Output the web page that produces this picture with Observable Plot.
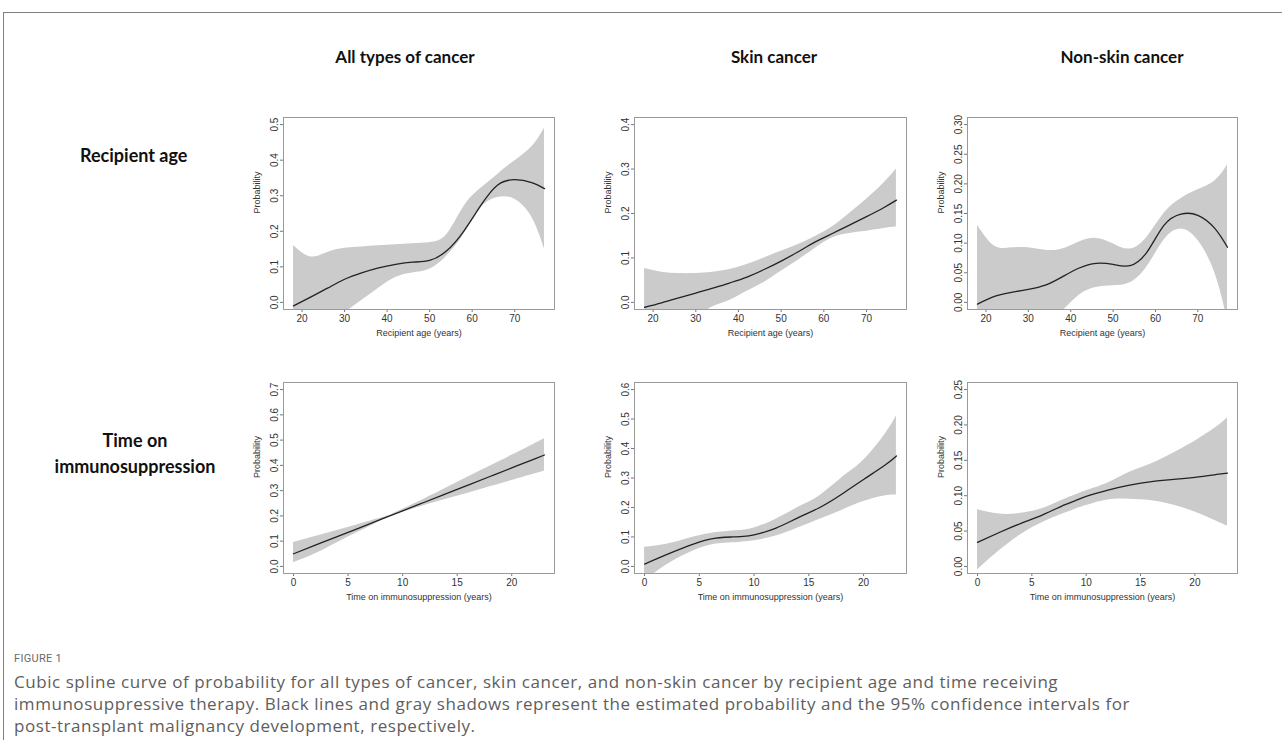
<!DOCTYPE html>
<html>
<head>
<meta charset="utf-8">
<script src="https://cdn.jsdelivr.net/npm/d3@7"></script>
<script src="https://cdn.jsdelivr.net/npm/@observablehq/plot@0.6"></script>
<style>
  body { margin: 0; background: #fff; }
  #page { position: relative; width: 1282px; height: 740px; overflow: hidden; background: #fff; }
  .bt { position: absolute; left: 3px; top: 12px; right: 0; border-top: 1px solid #808080; }
  .bl { position: absolute; left: 3px; top: 12px; bottom: 0; border-left: 1px solid #808080; }
  .coltitle { position: absolute; top: 46px; transform: translateX(-50%); font: bold 17px Lato, "Open Sans", sans-serif; color: #111; white-space: nowrap; }
  .rowtitle { position: absolute; font: bold 18px Lato, "Open Sans", sans-serif; color: #111; text-align: center; line-height: 26px; white-space: nowrap; }
  .panel { position: absolute; }
  .figlabel { position: absolute; left: 14px; top: 652px; font: 11px Roboto, sans-serif; color: #6a6a6a; letter-spacing: 0.3px; }
  .caption { position: absolute; left: 14px; top: 671px; font: 17px "Open Sans", sans-serif; color: #5e5e5e; line-height: 22px; letter-spacing: 0.55px; white-space: nowrap; }
</style>
</head>
<body>
<div id="page">
  <div class="bt"></div>
  <div class="bl"></div>
  <div class="coltitle" style="left:405px">All types of cancer</div>
  <div class="coltitle" style="left:774px">Skin cancer</div>
  <div class="coltitle" style="left:1122px">Non-skin cancer</div>
  <div class="rowtitle" style="left:80px; top:142px;">Recipient age</div>
  <div class="rowtitle" style="left:30px; top:427px; width:210px;">Time on<br>immunosuppression</div>
  <div class="figlabel">FIGURE 1</div>
  <div class="caption">Cubic spline curve of probability for all types of cancer, skin cancer, and non-skin cancer by recipient age and time receiving<br>immunosuppressive therapy. Black lines and gray shadows represent the estimated probability and the 95% confidence intervals for<br>post-transplant malignancy development, respectively.</div>
</div>
<script>
// ---- Data ----
const ages = [18, 22, 26, 30, 34, 38, 42, 46, 50, 54, 58, 62, 66, 70, 74, 77];
const allAgeEst = [-0.01, 0.015, 0.04, 0.065, 0.083, 0.097, 0.107, 0.113, 0.118, 0.145, 0.2, 0.272, 0.33, 0.345, 0.337, 0.32];
const allAgeUp  = [0.16, 0.128, 0.14, 0.152, 0.156, 0.159, 0.162, 0.165, 0.168, 0.19, 0.268, 0.32, 0.36, 0.398, 0.437, 0.49];
const allAgeLo  = [-0.15, -0.11, -0.07, -0.03, 0.005, 0.04, 0.07, 0.083, 0.093, 0.13, 0.19, 0.265, 0.295, 0.29, 0.24, 0.15];

const skinAgeEst = [-0.011, -0.001, 0.01, 0.021, 0.032, 0.044, 0.057, 0.074, 0.093, 0.114, 0.136, 0.155, 0.174, 0.193, 0.213, 0.23];
const skinAgeUp  = [0.076, 0.068, 0.065, 0.065, 0.068, 0.074, 0.085, 0.1, 0.115, 0.13, 0.148, 0.17, 0.2, 0.232, 0.268, 0.3];
const skinAgeLo  = [-0.1, -0.08, -0.06, -0.035, -0.01, 0.005, 0.025, 0.045, 0.07, 0.095, 0.122, 0.145, 0.155, 0.16, 0.166, 0.17];

const nonAgeEst = [-0.003, 0.01, 0.017, 0.022, 0.029, 0.043, 0.058, 0.066, 0.064, 0.062, 0.085, 0.13, 0.149, 0.147, 0.125, 0.093];
const nonAgeUp  = [0.13, 0.095, 0.092, 0.092, 0.088, 0.09, 0.102, 0.108, 0.099, 0.09, 0.11, 0.15, 0.175, 0.19, 0.205, 0.232];
const nonAgeLo  = [-0.14, -0.11, -0.08, -0.055, -0.035, -0.015, 0.012, 0.025, 0.028, 0.033, 0.06, 0.105, 0.124, 0.105, 0.05, -0.03];

const times = [0, 2, 4, 6, 8, 9, 10, 12, 14, 16, 18, 20, 22, 23];
const allTimeEst = [0.05, 0.084, 0.118, 0.152, 0.186, 0.203, 0.22, 0.254, 0.288, 0.322, 0.356, 0.39, 0.424, 0.441];
const allTimeUp  = [0.095, 0.118, 0.142, 0.167, 0.192, 0.206, 0.226, 0.267, 0.31, 0.354, 0.397, 0.44, 0.483, 0.505];
const allTimeLo  = [0.015, 0.05, 0.094, 0.137, 0.18, 0.2, 0.214, 0.241, 0.266, 0.29, 0.315, 0.34, 0.365, 0.377];

const skinTimeEst = [0.008, 0.04, 0.07, 0.093, 0.1, 0.102, 0.107, 0.13, 0.165, 0.2, 0.245, 0.295, 0.345, 0.375];
const skinTimeUp  = [0.065, 0.075, 0.095, 0.112, 0.12, 0.123, 0.13, 0.16, 0.2, 0.24, 0.3, 0.36, 0.45, 0.51];
const skinTimeLo  = [-0.05, 0.005, 0.045, 0.072, 0.08, 0.083, 0.087, 0.103, 0.13, 0.16, 0.19, 0.22, 0.24, 0.242];

const nonTimeEst = [0.034, 0.048, 0.061, 0.073, 0.087, 0.093, 0.099, 0.108, 0.115, 0.12, 0.123, 0.126, 0.13, 0.132];
const nonTimeUp  = [0.08, 0.074, 0.075, 0.082, 0.095, 0.101, 0.107, 0.118, 0.133, 0.145, 0.16, 0.177, 0.197, 0.21];
const nonTimeLo  = [-0.005, 0.022, 0.045, 0.062, 0.075, 0.081, 0.086, 0.094, 0.095, 0.093, 0.087, 0.077, 0.064, 0.057];

const ageTicks = [20, 30, 40, 50, 60, 70];
const timeTicks = [0, 5, 10, 15, 20];
const yTicks1 = [0, 0.1, 0.2, 0.3, 0.4, 0.5];
const yTicks2 = [0, 0.1, 0.2, 0.3, 0.4];
const yTicks3 = [0, 0.05, 0.1, 0.15, 0.2, 0.25, 0.3];
const yTicks4 = [0, 0.1, 0.2, 0.3, 0.4, 0.5, 0.6, 0.7];
const yTicks5 = [0, 0.1, 0.2, 0.3, 0.4, 0.5, 0.6];
const yTicks6 = [0, 0.05, 0.1, 0.15, 0.2, 0.25];
const xLabelAge = "Recipient age (years)";
const xLabelTime = "Time on immunosuppression (years)";
const yLabel = "Probability";

// ---- Panels ----
function rows(xs, est, lo, hi) {
  return xs.map((x, i) => ({x, est: est[i], lo: lo[i], hi: hi[i]}));
}
const pad = (a, b) => [a - 0.04 * (b - a), b + 0.04 * (b - a)];

const boxX = [[283, 554], [634, 906], [967, 1237]];
const boxY = [[117, 309], [382, 573]];

const panels = [
  {r: 0, c: 0, data: rows(ages, allAgeEst, allAgeLo, allAgeUp), xd: pad(18, 77), yd: pad(0, 0.5), yt: yTicks1, fmt: ".1f", xt: ageTicks, xl: xLabelAge},
  {r: 0, c: 1, data: rows(ages, skinAgeEst, skinAgeLo, skinAgeUp), xd: pad(18, 77), yd: pad(0, 0.4), yt: yTicks2, fmt: ".1f", xt: ageTicks, xl: xLabelAge},
  {r: 0, c: 2, data: rows(ages, nonAgeEst, nonAgeLo, nonAgeUp), xd: pad(18, 77), yd: pad(0, 0.3), yt: yTicks3, fmt: ".2f", xt: ageTicks, xl: xLabelAge},
  {r: 1, c: 0, data: rows(times, allTimeEst, allTimeLo, allTimeUp), xd: pad(0, 23), yd: pad(0, 0.7), yt: yTicks4, fmt: ".1f", xt: timeTicks, xl: xLabelTime},
  {r: 1, c: 1, data: rows(times, skinTimeEst, skinTimeLo, skinTimeUp), xd: pad(0, 23), yd: pad(0, 0.6), yt: yTicks5, fmt: ".1f", xt: timeTicks, xl: xLabelTime},
  {r: 1, c: 2, data: rows(times, nonTimeEst, nonTimeLo, nonTimeUp), xd: pad(0, 23), yd: pad(0, 0.25), yt: yTicks6, fmt: ".2f", xt: timeTicks, xl: xLabelTime}
];

const ML = 60, MR = 10, MT = 10, MB = 40;
const page = document.getElementById("page");

for (const p of panels) {
  const [x0, x1] = boxX[p.c];
  const [y0, y1] = boxY[p.r];
  const w = x1 - x0, h = y1 - y0;
  const chart = Plot.plot({
    width: w + ML + MR,
    height: h + MT + MB,
    marginLeft: ML, marginRight: MR, marginTop: MT, marginBottom: MB,
    style: {fontFamily: "'Liberation Sans', Arial, sans-serif", fontSize: "10px", color: "#333", background: "transparent"},
    x: {domain: p.xd},
    y: {domain: p.yd},
    marks: [
      Plot.areaY(p.data, {x: "x", y1: "lo", y2: "hi", fill: "#cbcbcb", curve: "natural", clip: true}),
      Plot.line(p.data, {x: "x", y: "est", stroke: "#222", strokeWidth: 1.3, curve: "natural", clip: true}),
      Plot.axisX({ticks: p.xt, tickSize: 3, tickPadding: 2, stroke: "#777", label: null}),
      Plot.axisY({ticks: p.yt, tickFormat: d3.format(p.fmt), tickSize: 3, tickPadding: 3, tickRotate: -90, stroke: "#777", label: null}),
      Plot.frame({stroke: "#9a9a9a"}),
      Plot.text([yLabel], {frameAnchor: "left", dx: -26, rotate: -90, text: d => d, fontSize: 9, fill: "#333"}),
      Plot.text([p.xl], {frameAnchor: "bottom", dy: 26, text: d => d, fontSize: 9, fill: "#333"})
    ]
  });
  const holder = document.createElement("div");
  holder.className = "panel";
  holder.style.left = (x0 - ML) + "px";
  holder.style.top = (y0 - MT) + "px";
  holder.appendChild(chart);
  page.appendChild(holder);
}
</script>
</body>
</html>
